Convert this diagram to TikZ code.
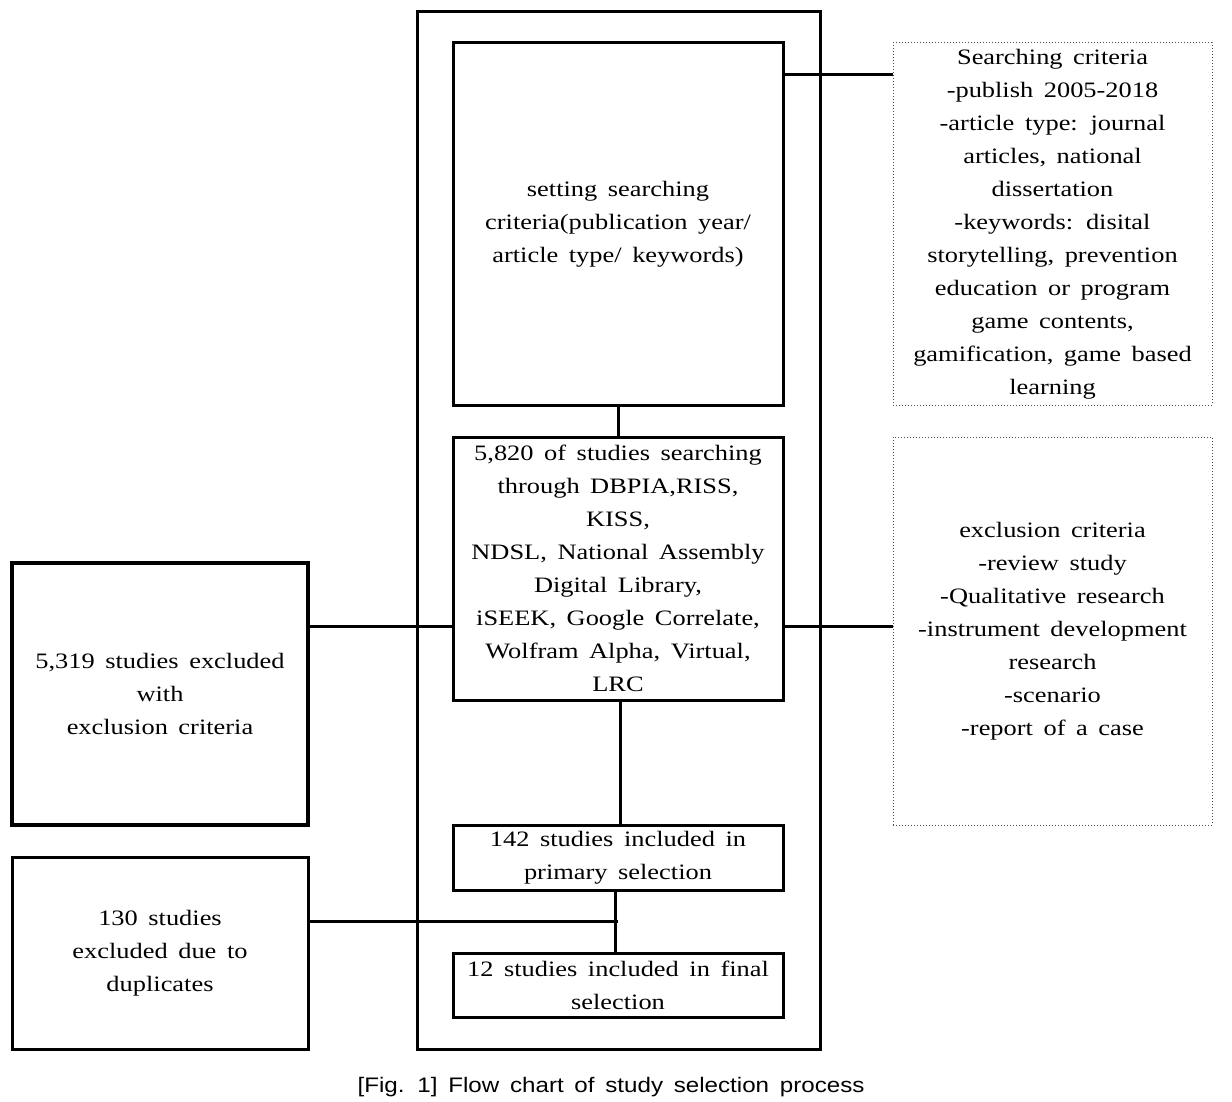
\documentclass[tikz,border=0pt]{standalone}
\usepackage{fontspec}
\setmainfont[FakeStretch=1.2,WordSpace=1.6]{Liberation Serif}
\newfontfamily\capfont[FakeStretch=1.15,WordSpace=1.6]{Liberation Sans}
\begin{document}
\begin{tikzpicture}[x=1pt,y=-1pt,
  every node/.style={inner sep=0pt,outer sep=0pt,align=center,
    font=\fontsize{22}{33}\selectfont},
  txt/.style={execute at begin node={\rule{0pt}{29pt}}},
  solidbox/.style={txt,draw,line width=3pt},
  heavybox/.style={txt,draw,line width=4.5pt},
  dotbox/.style={txt,draw=black!70,dotted,line width=1pt},
  conn/.style={line width=3pt}]
\useasboundingbox (0,0) rectangle (1232,1102);
% outer frame
\node[draw,line width=3pt,minimum width=403pt,minimum height=1037pt] (frame) at (618.5,530.5) {};
% inner boxes
\node[solidbox,minimum width=330pt,minimum height=362pt] (b1) at (618,224) {setting searching\\criteria(publication year/\\article type/ keywords)};
\node[solidbox,minimum width=330pt,minimum height=263pt] (b2) at (618,568.5) {5,820 of studies searching\\through DBPIA,RISS,\\KISS,\\NDSL, National Assembly\\Digital Library,\\iSEEK, Google Correlate,\\Wolfram Alpha, Virtual,\\LRC};
\node[solidbox,minimum width=330pt,minimum height=65pt] (b3) at (618,857.5) {142 studies included in\\primary selection};
\node[solidbox,minimum width=330pt,minimum height=64pt] (b4) at (618,985) {12 studies included in final\\selection};
% left boxes
\node[heavybox,minimum width=296pt,minimum height=262pt] (l1) at (160,694) {5,319 studies excluded\\with\\exclusion criteria};
\node[solidbox,minimum width=296pt,minimum height=192pt] (l2) at (160,953) {130 studies\\excluded due to\\duplicates};
% right dotted boxes
\node[dotbox,minimum width=319pt,minimum height=362pt] (r1) at (1052.5,224) {Searching criteria\\-publish 2005-2018\\-article type: journal\\articles, national\\dissertation\\-keywords: disital\\storytelling, prevention\\education or program\\game contents,\\gamification, game based\\learning};
\node[dotbox,minimum width=319pt,minimum height=388pt] (r2) at (1052.5,631) {exclusion criteria\\-review study\\-Qualitative research\\-instrument development\\research\\-scenario\\-report of a case};
% caption
\node[font=\capfont\fontsize{21}{24}\selectfont] (cap) at (611,1087) {[Fig. 1] Flow chart of study selection process};
% connectors
\coordinate (j1) at (618,75);
\coordinate (j2) at (618,626);
\coordinate (j3) at (616,921);
\draw[conn] (b1.east |- j1) -- (r1.west |- j1);
\draw[conn] (b1.south) -- (b2.north);
\draw[conn] (l1.east |- j2) -- (b2.west |- j2);
\draw[conn] (b2.east |- j2) -- (r2.west |- j2);
\draw[conn] ([xshift=2pt]b2.south) -- ([xshift=2pt]b3.north);
\draw[conn] ([xshift=-3pt]b3.south) -- ([xshift=-3pt]b4.north);
\draw[conn] (l2.east |- j3) -- ([xshift=1.5pt]j3);
\end{tikzpicture}
\end{document}
